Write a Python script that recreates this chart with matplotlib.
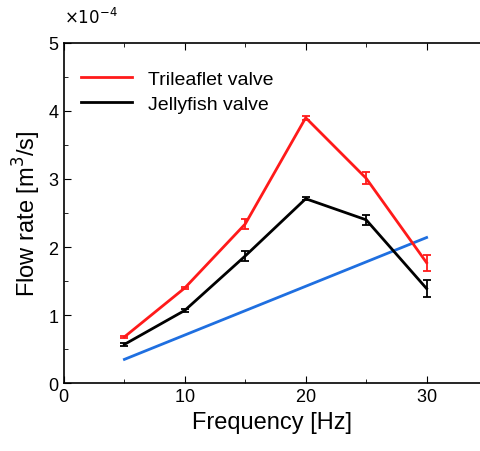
import matplotlib.pyplot as plt
from matplotlib.lines import Line2D
from matplotlib.ticker import MultipleLocator

plt.rcParams['font.family'] = ['Liberation Sans', 'DejaVu Sans']
plt.rcParams['axes.formatter.use_mathtext'] = True

# Data (flow rate in m^3/s)
freq = [5, 10, 15, 20, 25, 30]
trileaflet = [0.68e-4, 1.40e-4, 2.34e-4, 3.90e-4, 3.01e-4, 1.77e-4]
trileaflet_err = [0.02e-4, 0.02e-4, 0.07e-4, 0.03e-4, 0.09e-4, 0.12e-4]
jellyfish = [0.57e-4, 1.07e-4, 1.87e-4, 2.71e-4, 2.40e-4, 1.39e-4]
jellyfish_err = [0.02e-4, 0.02e-4, 0.07e-4, 0.02e-4, 0.07e-4, 0.13e-4]
ref_freq = [5, 30]
ref_flow = [0.35e-4, 2.14e-4]

red = '#ff1a1a'

fig = plt.figure(figsize=(4.81, 4.52), dpi=100)
ax = fig.add_axes([0.133, 0.150, 0.867, 0.753])

ax.errorbar(freq, trileaflet, yerr=trileaflet_err, color=red, lw=2,
            capsize=3, elinewidth=1.3, capthick=1.3)
ax.errorbar(freq, jellyfish, yerr=jellyfish_err, color='black', lw=2,
            capsize=3, elinewidth=1.3, capthick=1.3)
ax.plot(ref_freq, ref_flow, color='#1f6fe0', lw=2)

ax.set_xlim(0, 34.5)
ax.set_ylim(0, 5e-4)
ax.xaxis.set_major_locator(MultipleLocator(10))
ax.xaxis.set_minor_locator(MultipleLocator(5))
ax.yaxis.set_major_locator(MultipleLocator(1e-4))
ax.yaxis.set_minor_locator(MultipleLocator(0.5e-4))
ax.ticklabel_format(axis='y', style='sci', scilimits=(-4, -4))
# exponent drawn by hand so it sits a bit higher like the original
ax.yaxis.get_offset_text().set_visible(False)
ax.text(0.0, 1.05, r'$\times10^{-4}$', transform=ax.transAxes, fontsize=12,
        ha='left', va='bottom')

ax.tick_params(which='both', direction='in', top=True, labelsize=13)
ax.tick_params(which='major', length=5)
ax.tick_params(which='minor', length=3)
ax.spines['right'].set_visible(False)
for s in ['left', 'bottom', 'top']:
    ax.spines[s].set_linewidth(1.2)

ax.set_xlabel('Frequency [Hz]', fontsize=17)
ax.set_ylabel('Flow rate [m$^3$/s]', fontsize=17, labelpad=3)

handles = [Line2D([], [], color=red, lw=2), Line2D([], [], color='black', lw=2)]
ax.legend(handles, ['Trileaflet valve', 'Jellyfish valve'], loc='upper left',
          frameon=False, fontsize=14, handlelength=2.6,
          bbox_to_anchor=(0.0, 0.97), labelspacing=0.35)

fig.savefig('out.png', dpi=100)
